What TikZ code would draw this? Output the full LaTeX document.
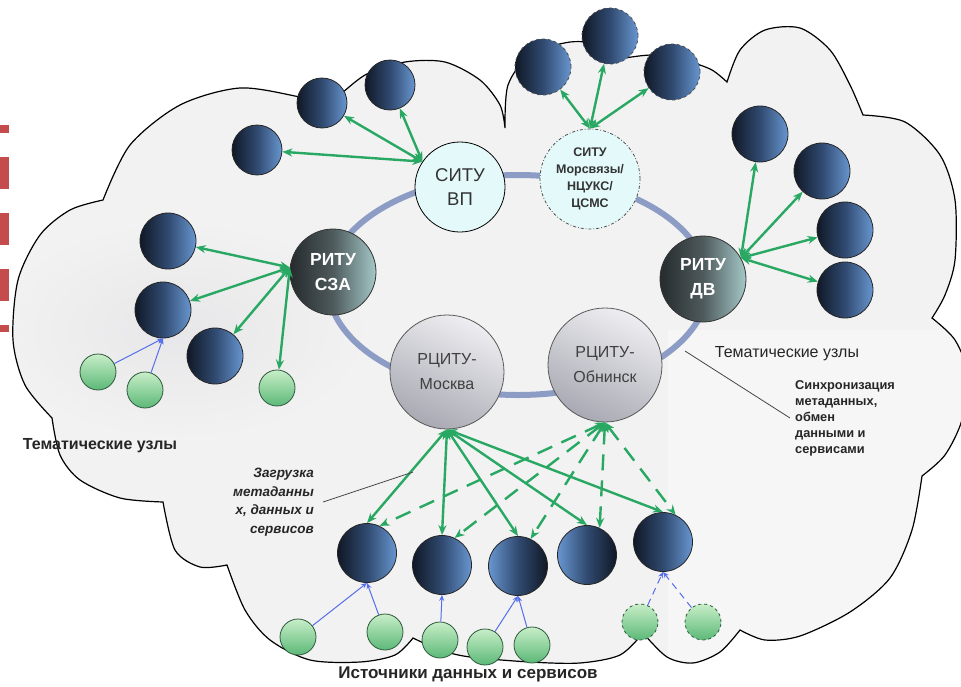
\documentclass[tikz,border=0pt]{standalone}
\usepackage{fontspec}
\setmainfont{Liberation Sans}
\usetikzlibrary{arrows.meta}

\definecolor{cloudfill}{RGB}{242,242,242}
\definecolor{blobgray}{RGB}{231,231,233}
\definecolor{ringc}{RGB}{140,156,196}
\definecolor{gline}{RGB}{40,168,98}
\definecolor{bline}{RGB}{85,110,235}
\definecolor{navyd}{RGB}{16,24,38}
\definecolor{navym}{RGB}{48,74,112}
\definecolor{bluel}{RGB}{104,150,208}
\definecolor{ritud}{RGB}{38,43,46}
\definecolor{ritum}{RGB}{78,90,92}
\definecolor{ritul}{RGB}{165,200,200}
\definecolor{rcitul}{RGB}{238,238,242}
\definecolor{rcitud}{RGB}{168,169,178}
\definecolor{situfill}{RGB}{228,250,250}
\definecolor{greenl}{RGB}{200,238,200}
\definecolor{greend}{RGB}{92,184,120}
\definecolor{greenb}{RGB}{45,90,60}
\definecolor{redmark}{RGB}{196,76,76}
\definecolor{leader}{RGB}{70,70,70}

% cloud outline: one smooth bump between each pair of cusps
\newcommand{\cloudoutline}{%
  plot[smooth] coordinates {(103,200) (130,145) (180,105) (240,88) (300,97) (330,104)}
  -- plot[smooth] coordinates {(330,104) (365,75) (405,62) (445,62) (480,80) (500,105) (505,128)}
  -- plot[smooth] coordinates {(505,128) (508,85) (530,55) (570,42) (605,45) (625,58)}
  -- plot[smooth] coordinates {(625,58) (655,55) (690,62) (712,70) (727,82)}
  -- plot[smooth] coordinates {(727,82) (740,50) (765,30) (800,28) (830,50) (850,85) (863,115)}
  -- plot[smooth] coordinates {(863,115) (905,122) (940,155) (955,200) (955,260) (945,295) (932,318)}
  -- plot[smooth] coordinates {(932,318) (955,340) (968,375) (962,420) (945,455) (922,476)}
  -- plot[smooth] coordinates {(922,476) (912,530) (890,578) (850,612) (800,636) (765,640) (740,630)}
  -- plot[smooth] coordinates {(740,630) (720,652) (693,663) (667,657) (643,633)}
  -- plot[smooth] coordinates {(643,633) (620,655) (580,663) (530,662) (470,657) (440,650) (413,638)}
  -- plot[smooth] coordinates {(413,638) (395,655) (360,662) (310,660) (270,640) (245,610) (227,565)}
  -- plot[smooth] coordinates {(227,565) (200,567) (175,550) (163,502)}
  -- plot[smooth] coordinates {(163,502) (120,498) (80,480) (60,455) (52,418)}
  -- plot[smooth] coordinates {(52,418) (25,385) (13,340) (18,280) (40,235) (70,210) (103,200)}
  -- cycle}

\tikzset{
  sat/.style={circle, draw=black!85, line width=0.8pt, minimum size=56pt, inner sep=0pt,
    left color=navyd, right color=bluel, middle color=navym},
  satr/.style={sat, left color=bluel, right color=navyd, middle color=navym},
  satsm/.style={sat, minimum size=50pt},
  satd/.style={sat, dashed, draw=black!70},
  satb/.style={sat, minimum size=59pt},
  satbr/.style={satr, minimum size=59pt},
  ritu/.style={circle, draw=black!80, line width=0.8pt, minimum size=86pt, inner sep=0pt,
    left color=ritud, right color=ritul, middle color=ritum, text=white, align=center,
    font=\bfseries\fontsize{17.5}{25}\selectfont},
  rcitu/.style={circle, draw=black!65, line width=0.8pt, minimum size=114pt, inner sep=0pt,
    top color=rcitul, bottom color=rcitud, shading angle=-25, text=black!75, align=center,
    font=\fontsize{16}{25}\selectfont},
  situ/.style={circle, draw=black, line width=0.8pt, minimum size=90pt, inner sep=0pt,
    fill=situfill, text=black!80, align=center, font=\fontsize{18.5}{24}\selectfont},
  situd/.style={situ, draw=black!70, dash dot, minimum size=100pt,
    font=\bfseries\fontsize{12.5}{17}\selectfont},
  src/.style={circle, draw=greenb, line width=0.8pt, minimum size=36pt, inner sep=0pt,
    top color=greenl, bottom color=greend},
  srcd/.style={src, dashed},
  garr/.style={draw=gline, line width=2.4pt,
    arrows={Stealth[length=10pt,width=8pt]-Stealth[length=10pt,width=8pt]}},
  gdash/.style={garr, dash pattern=on 16pt off 10pt},
  barr/.style={draw=bline, line width=1pt, -{Stealth[length=6pt,width=5pt]}},
  bdash/.style={barr, dash pattern=on 7pt off 5pt},
  lead/.style={draw=leader, line width=0.8pt},
  lbl/.style={inner sep=0pt, text=black!85},
}

\begin{document}
\begin{tikzpicture}[x=1pt, y=-1pt]
\useasboundingbox (0,0) rectangle (961,686);
\fill[white] (0,0) rectangle (961,686);

% cloud body with soft shading patches
\fill[cloudfill] \cloudoutline;
\begin{scope}
  \clip \cloudoutline;
  \shade[inner color=blobgray, outer color=cloudfill] (180,330) ellipse [x radius=190, y radius=110];
  \fill[white, opacity=0.35] (668,330) rectangle (961,686);
\end{scope}
\draw[black, line width=1.2pt] \cloudoutline;

% red marks at the left edge
\draw[redmark, line width=12pt, dash pattern=on 32pt off 24pt, dash phase=24pt] (3,125) -- (3,332);

% backbone ring
\draw[ringc, line width=6pt] (518,285) ellipse [x radius=190, y radius=110];

% central nodes
\node[situ] (vp) at (460,187) {СИТУ\\ВП};
\node[situd] (ms) at (590,179) {СИТУ\\Морсвязы/\\НЦУКС/\\ЦСМС};
\node[ritu] (sza) at (333,272) {РИТУ\\СЗА};
\node[ritu] (dv) at (703,279) {РИТУ\\ДВ};
\node[rcitu] (msk) at (447,372) {РЦИТУ-\\Москва};
\node[rcitu] (obn) at (605,365) {РЦИТУ-\\Обнинск};

% thematic nodes around СИТУ ВП
\node[satsm] (t1) at (257,150) {};
\node[satsm] (t2) at (322,103) {};
\node[satsm] (t3) at (390,85) {};
% thematic nodes around СИТУ Морсвязы
\node[satd] (m1) at (543,67) {};
\node[satd] (m2) at (610,36) {};
\node[satd] (m3) at (672,72) {};
% thematic nodes around РИТУ ДВ
\node[sat] (r1) at (760,134) {};
\node[sat] (r2) at (822,171) {};
\node[sat] (r3) at (845,230) {};
\node[sat] (r4) at (845,290) {};
% thematic nodes around РИТУ СЗА
\node[sat] (l1) at (168,241) {};
\node[sat] (l2) at (163,310) {};
\node[sat] (l3) at (215,356) {};
\node[src] (lg1) at (98,372) {};
\node[src] (lg2) at (145,390) {};
\node[src] (lg3) at (277,388) {};
% data nodes below the РЦИТУ
\node[satb] (b1) at (367,553) {};
\node[satb] (b2) at (442,565) {};
\node[satbr] (b3) at (518,566) {};
\node[satbr] (b4) at (587,555) {};
\node[satb] (b5) at (663,542) {};
% data and service sources
\node[src] (g1) at (298,637) {};
\node[src] (g2) at (385,632) {};
\node[src] (g3) at (440,640) {};
\node[src] (g4) at (485,647) {};
\node[src] (g5) at (532,645) {};
\node[srcd] (g6) at (640,622) {};
\node[srcd] (g7) at (703,622) {};

% exchange links
\foreach \t in {t1,t2,t3} \draw[garr] (vp.146) -- (\t);
\foreach \t in {m1,m2,m3} \draw[garr] (ms.north) -- (\t);
\foreach \t in {r1,r2,r3,r4} \draw[garr] (dv.29) -- (\t);
\foreach \t in {l1,l2,l3,lg3} \draw[garr] (sza.174) -- (\t);
\foreach \t in {b1,b2,b3,b4,b5} \draw[gdash] (obn.south) -- (\t.65);
\foreach \t in {b1,b2,b3,b4,b5} \draw[garr] (msk.south) -- (\t.north);

% source feeds
\draw[barr] (lg1) -- (l2.south);
\draw[barr] (lg2) -- (l2.south);
\draw[barr] (g1) -- (b1.south);
\draw[barr] (g2) -- (b1.south);
\draw[barr] (g3) -- (b2.south);
\draw[barr] (g4) -- (b3.south);
\draw[barr] (g5) -- (b3.south);
\draw[bdash] (g6) -- (b5.south);
\draw[bdash] (g7) -- (b5.south);

% captions
\node[lbl, font=\bfseries\fontsize{16}{18}\selectfont] (temaL) at (100,446) {Тематические узлы};
\node[lbl, font=\fontsize{16}{18}\selectfont] (temaR) at (787,354) {Тематические узлы};
\node[lbl, font=\bfseries\fontsize{17}{19}\selectfont] (srcs) at (468,674) {Источники данных и сервисов};
\node[lbl, anchor=east, inner xsep=9pt, align=right,
      font=\bfseries\itshape\fontsize{13.5}{18.5}\selectfont] (zagr) at (323,502)
      {Загрузка\\метаданны\\х, данных и\\сервисов};
\node[lbl, anchor=west, inner xsep=5pt, align=left,
      font=\bfseries\fontsize{12.8}{16}\selectfont] (sync) at (790,418)
      {Синхронизация\\метаданных,\\обмен\\данными и\\сервисами};

% caption leaders
\coordinate (zagrtip) at (413,472);
\coordinate (synctip) at (685,351);
\draw[lead] (zagr.east) -- (zagrtip);
\draw[lead] (synctip) -- (sync.west);
\end{tikzpicture}
\end{document}
